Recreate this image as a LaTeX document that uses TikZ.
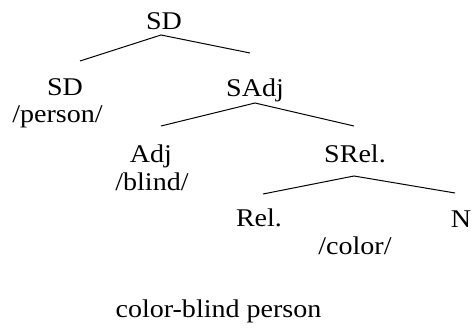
\documentclass[tikz,border=0pt]{standalone}
\usepackage{fontspec}
\setmainfont[FakeStretch=1.1]{Liberation Serif}
\begin{document}
\begin{tikzpicture}[x=1pt,y=-1pt,
  lbl/.style={anchor=base,inner sep=0pt,font=\fontsize{25.5}{30}\selectfont},
  edge/.style={line width=1pt,black}]
\useasboundingbox (0,0) rectangle (472,332);
% labels
\node[lbl] (sd0) at (164,29) {SD};
\node[lbl] (sd1) at (65,95) {SD};
\node[lbl] (person) at (57.5,122) {/person/};
\node[lbl] (sadj) at (255,96) {SAdj};
\node[lbl] (adj) at (151,162) {Adj};
\node[lbl] (blind) at (152,190) {/blind/};
\node[lbl] (srel) at (355,162) {SRel.};
\node[lbl] (rel) at (259,226) {Rel.};
\node[lbl] (n) at (461,227) {N};
\node[lbl] (colr) at (355,254) {/color/};
\node[lbl] (gloss) at (218.5,317) {color-blind person};
% edge endpoints
\coordinate (a0) at (161,35);
\coordinate (a0l) at (80,61);
\coordinate (a0r) at (250,53);
\coordinate (a1) at (255,103);
\coordinate (a1l) at (161,126);
\coordinate (a1r) at (354,126);
\coordinate (a2) at (354,176);
\coordinate (a2l) at (263,194);
\coordinate (a2r) at (455,193);
\draw[edge] (a0l) -- (a0) -- (a0r);
\draw[edge] (a1l) -- (a1) -- (a1r);
\draw[edge] (a2l) -- (a2) -- (a2r);
\end{tikzpicture}
\end{document}
